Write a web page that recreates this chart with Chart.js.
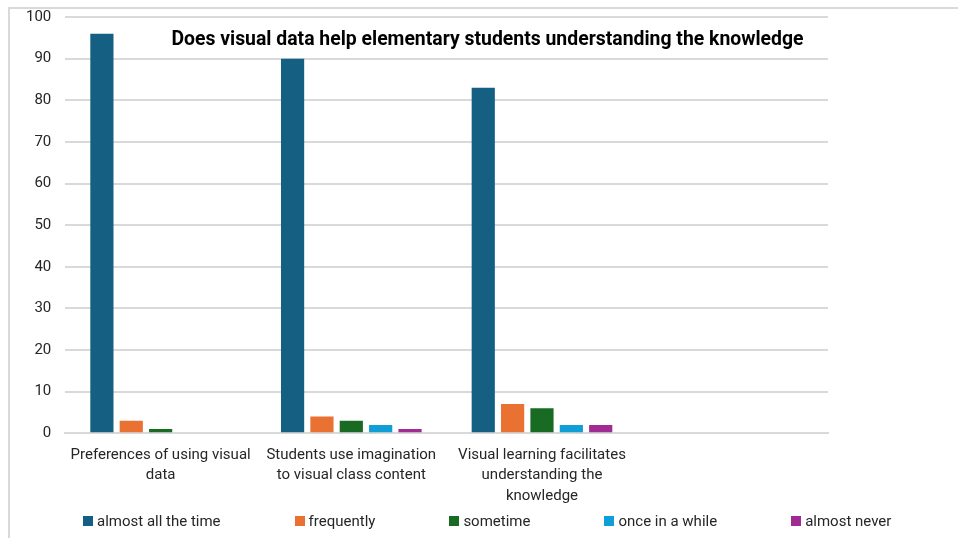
<!DOCTYPE html>
<html>
<head>
<meta charset="utf-8">
<script src="https://cdn.jsdelivr.net/npm/chart.js@4/dist/chart.umd.min.js"></script>
<style>
  html, body { margin: 0; padding: 0; background: #fff; }
  #wrap { width: 958px; height: 538px; position: relative; overflow: hidden; }
  #legend {
    position: absolute; left: 83px; top: 511px;
    display: flex; gap: 74px;
    font: 15px Roboto, "Noto Sans", sans-serif; color: #262626;
    line-height: 20px; white-space: nowrap;
  }
  #legend span.item { display: flex; align-items: center; }
  #legend i { display: inline-block; width: 10px; height: 10px; margin-right: 4px; }
</style>
</head>
<body>
<div id="wrap">
  <canvas id="myChart" width="958" height="538"></canvas>
  <div id="legend"></div>
</div>
<script>
    // survey answers per question (percent)
    const categories = [
        ['Preferences of using visual', 'data'],
        ['Students use imagination', 'to visual class content'],
        ['Visual learning facilitates', 'understanding the', 'knowledge'],
        ''
    ];
    const almostAllTheTime = [96, 90, 83, null];
    const frequently = [3, 4, 7, null];
    const sometime = [1, 3, 6, null];
    const onceInAWhile = [0, 2, 2, null];
    const almostNever = [0, 1, 2, null];

    const yTicks = [0, 10, 20, 30, 40, 50, 60, 70, 80, 90, 100];
    const chartTitle = 'Does visual data help elementary students understanding the knowledge';

    const fontFamily = 'Roboto, "Noto Sans", sans-serif';

    function series(label, values, color) {
        return {
            label: label,
            data: values,
            backgroundColor: color,
            borderWidth: 0,
            categoryPercentage: 0.77,
            barPercentage: 0.79
        };
    }

    const data = {
        labels: categories,
        datasets: [
            series('almost all the time', almostAllTheTime, '#156082'),
            series('frequently', frequently, '#E97132'),
            series('sometime', sometime, '#196B24'),
            series('once in a while', onceInAWhile, '#0F9ED5'),
            series('almost never', almostNever, '#A02B93')
        ]
    };

    // title sits inside the plot, plus the light frame round the chart
    const extras = {
        id: 'extras',
        beforeDraw(chart) {
            const ctx = chart.ctx;
            ctx.save();
            ctx.strokeStyle = '#d9d9d9';
            ctx.lineWidth = 2;
            ctx.strokeRect(9, 8, 1000, 600);
            ctx.restore();
        },
        afterDraw(chart) {
            const ctx = chart.ctx;
            const a = chart.chartArea;
            ctx.save();
            ctx.font = 'bold 19.4px ' + fontFamily;
            ctx.fillStyle = '#000';
            ctx.textAlign = 'center';
            ctx.textBaseline = 'middle';
            ctx.fillText(chartTitle, a.left + (a.right - a.left) * 0.5535, chart.scales.y.getPixelForValue(94.5));
            ctx.restore();
        }
    };

    const config = {
        type: 'bar',
        data: data,
        plugins: [extras],
        options: {
            responsive: false,
            animation: false,
            layout: {
                padding: { left: 12, right: 130, top: 17, bottom: 20 }
            },
            plugins: {
                title: { display: false },
                tooltip: { enabled: false },
                legend: { display: false }
            },
            scales: {
                x: {
                    grid: { display: false, drawTicks: false },
                    border: { display: true, color: '#d9d9d9', width: 2 },
                    ticks: {
                        color: '#262626',
                        font: { family: fontFamily, size: 15, lineHeight: 1.35 },
                        maxRotation: 0,
                        autoSkip: false,
                        padding: 12
                    }
                },
                y: {
                    min: 0,
                    max: 100,
                    afterBuildTicks(axis) {
                        axis.ticks = yTicks.map(v => ({ value: v }));
                    },
                    afterFit(axis) {
                        axis.paddingTop = 0;
                    },
                    grid: { color: '#d9d9d9', lineWidth: 2, drawTicks: false },
                    border: { display: false },
                    ticks: {
                        color: '#262626',
                        font: { family: fontFamily, size: 15 },
                        padding: 14
                    }
                }
            }
        }
    };

    const myChart = new Chart(document.getElementById('myChart'), config);

    // legend built from the chart's own datasets
    const legendEl = document.getElementById('legend');
    myChart.data.datasets.forEach(ds => {
        const item = document.createElement('span');
        item.className = 'item';
        const box = document.createElement('i');
        box.style.background = ds.backgroundColor;
        item.appendChild(box);
        item.appendChild(document.createTextNode(ds.label));
        legendEl.appendChild(item);
    });
</script>
</body>
</html>
